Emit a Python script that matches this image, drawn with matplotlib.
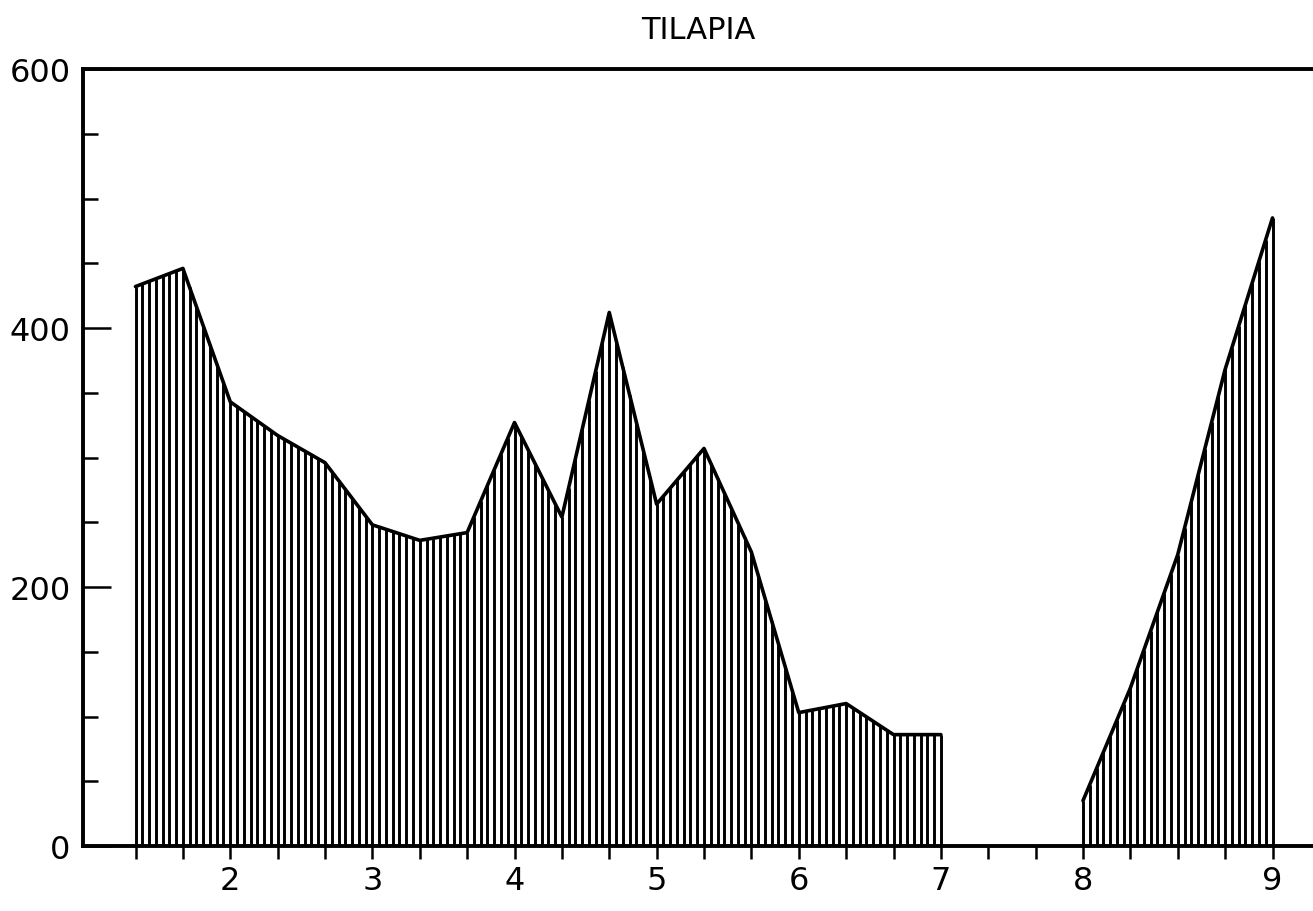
import numpy as np
import matplotlib
matplotlib.use("Agg")
import matplotlib.pyplot as plt

plt.rcParams["font.family"] = ["DejaVu Sans"]

# Sample positions (one step = one third of a labelled unit) and values
idx_a = [0, 1, 2, 3, 4, 5, 6, 7, 8, 9, 10, 11, 12, 13, 14, 15, 16, 17]
vals_a = [432, 446, 343, 317, 296, 248, 236, 242, 327, 254, 412, 264, 307,
          227, 103, 110, 86, 86]

idx_b = [20, 21, 22, 23, 24]
vals_b = [35, 122, 225, 368, 485]

# Labelled positions on the x axis
label_pos = [2, 5, 8, 11, 14, 17, 20, 24]
label_txt = ["2", "3", "4", "5", "6", "7", "8", "9"]

y_major = [0, 200, 400, 600]
y_minor = [50, 100, 150, 250, 300, 350, 450, 500, 550]
x_minor = list(range(0, 25))

HATCH_PER_STEP = 7

W, H = 1313, 912
fig = plt.figure(figsize=(W / 100, H / 100), dpi=100)
ax = fig.add_axes([83 / W, 65 / H, 1 - 83 / W, 777 / H])

px_per_step = (1272.5 - 135.5) / 24
ax.set_xlim(-(135.5 - 83) / px_per_step, (W - 135.5) / px_per_step)
ax.set_ylim(0, 600)


def hatched_area(xs, ys):
    xs = np.asarray(xs, dtype=float)
    ys = np.asarray(ys, dtype=float)
    n = int(round((xs[-1] - xs[0]) * HATCH_PER_STEP)) + 1
    hx = np.linspace(xs[0], xs[-1], n)
    hy = np.interp(hx, xs, ys)
    ax.vlines(hx, 0, hy, colors="black", linewidth=2.1, zorder=2)
    ax.plot(xs, ys, color="black", linewidth=2.6, solid_joinstyle="round",
            solid_capstyle="round", zorder=3)


hatched_area(idx_a, vals_a)
hatched_area(idx_b, vals_b)

for side in ("left", "top", "bottom"):
    ax.spines[side].set_linewidth(2.8)
    ax.spines[side].set_color("black")
ax.spines["right"].set_visible(False)

ax.set_yticks(y_major)
ax.set_yticklabels([str(v) for v in y_major])
ax.set_yticks(y_minor, minor=True)
ax.tick_params(axis="y", which="major", direction="in", length=20, width=1.8,
               pad=9, labelsize=23)
ax.tick_params(axis="y", which="minor", direction="in", length=11, width=1.8)

ax.set_xticks(label_pos)
ax.set_xticklabels(label_txt)
ax.set_xticks(x_minor, minor=True)
ax.tick_params(axis="x", which="both", direction="out", length=9, width=1.8,
               pad=5, labelsize=23)

ax.set_title("TILAPIA", fontsize=22, pad=22)

fig.savefig("out.png", dpi=100)
